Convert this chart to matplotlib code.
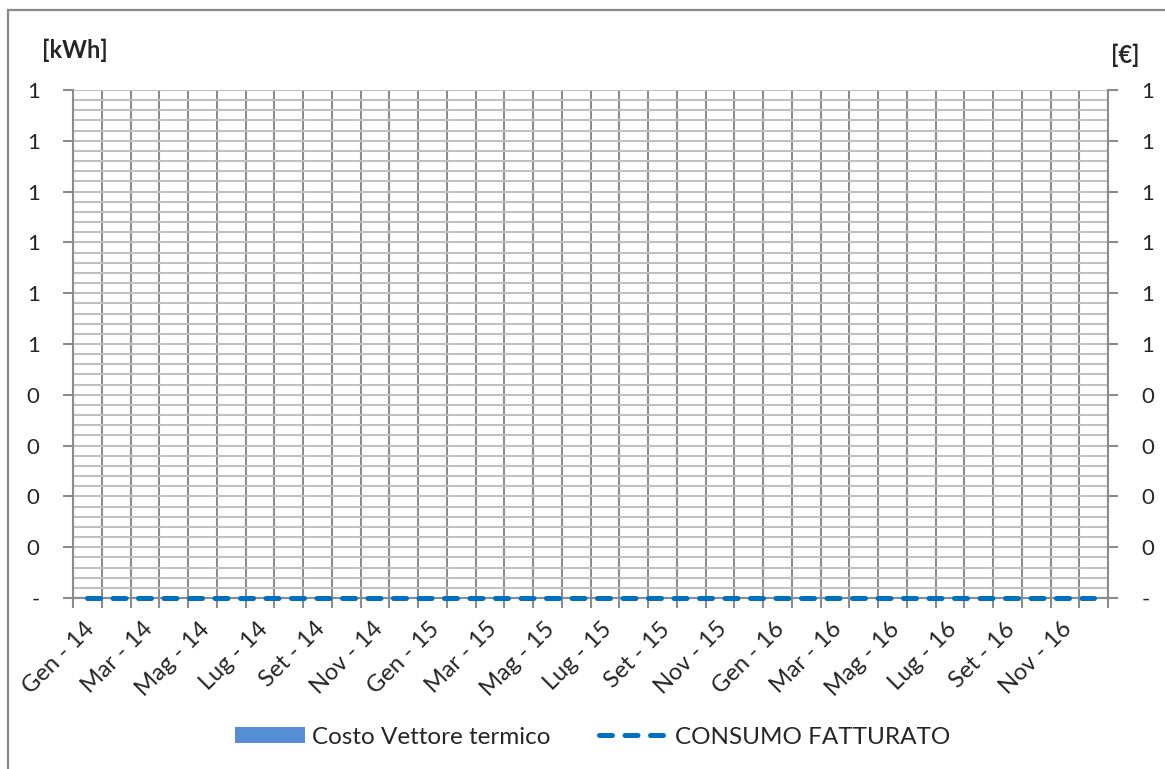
import matplotlib
matplotlib.use("Agg")
import matplotlib.pyplot as plt
from matplotlib.ticker import MultipleLocator, FuncFormatter, FixedLocator
from matplotlib.patches import Rectangle, Patch
from matplotlib.lines import Line2D
from matplotlib.transforms import ScaledTranslation

plt.rcParams['font.family'] = ['Lato', 'DejaVu Sans']

# Monthly categories, Jan 2014 - Dec 2016
mesi = ["Gen", "Feb", "Mar", "Apr", "Mag", "Giu",
        "Lug", "Ago", "Set", "Ott", "Nov", "Dic"]
anni = ["14", "15", "16"]
categorie = [f"{m} - {a}" for a in anni for m in mesi]

# Thermal carrier cost [€] (bars, right axis)
costo_vettore = [0, 0, 0, 0, 0, 0, 0, 0, 0, 0, 0, 0,
                 0, 0, 0, 0, 0, 0, 0, 0, 0, 0, 0, 0,
                 0, 0, 0, 0, 0, 0, 0, 0, 0, 0, 0, 0]
# Billed consumption [kWh] (dashed line, left axis)
consumo_fatturato = [0, 0, 0, 0, 0, 0, 0, 0, 0, 0, 0, 0,
                     0, 0, 0, 0, 0, 0, 0, 0, 0, 0, 0, 0,
                     0, 0, 0, 0, 0, 0, 0, 0, 0, 0, 0, 0]

COL_BAR = "#558ED5"
COL_LINE = "#0070C0"
COL_AXIS = "#8C8C8C"
COL_GRID = "#C0C0C0"
COL_TEXT = "#262626"

W, H = 1165, 769
fig = plt.figure(figsize=(W / 100, H / 100), dpi=100)

# outer chart frame
fig.patches.append(Rectangle((8 / W, -0.1), 1.2, 1.1 - 10 / H, transform=fig.transFigure,
                             fill=False, edgecolor="#898989", linewidth=1.6))

L, R, T, B = 73, 1108, 90, 598
ax = fig.add_axes([L / W, 1 - B / H, (R - L) / W, (B - T) / H])
ax2 = ax.twinx()

n = len(categorie)
x = list(range(n))


def etichetta(v, pos):
    if abs(v) < 1e-9:
        return "-"
    return str(int(v + 0.5 + 1e-9))


for a in (ax, ax2):
    a.set_xlim(-0.5, n - 0.5)
    a.set_ylim(0, 1)
    a.yaxis.set_major_locator(MultipleLocator(0.1))
    a.yaxis.set_minor_locator(MultipleLocator(0.02))
    a.yaxis.set_major_formatter(FuncFormatter(etichetta))
    for s in a.spines.values():
        s.set_color(COL_AXIS)
        s.set_linewidth(1.5)
    a.spines['top'].set_visible(False)
    a.tick_params(axis='y', which='major', length=7, width=1.5, color=COL_AXIS,
                  labelsize=16, labelcolor=COL_TEXT, pad=17)
    a.tick_params(axis='y', which='minor', length=0)

ax2.spines['left'].set_visible(False)
ax.spines['right'].set_visible(False)

# bars for the cost series
ax2.bar(x, costo_vettore, width=0.6, color=COL_BAR, zorder=2)

# horizontal grid (major + minor), vertical grid at category boundaries
ax.yaxis.grid(True, which='both', color=COL_GRID, linewidth=1.5, zorder=0)
ax.xaxis.set_minor_locator(FixedLocator([i - 0.5 for i in range(n + 1)]))
ax.xaxis.grid(True, which='minor', color=COL_AXIS, linewidth=1.5, zorder=0)
ax.set_axisbelow(True)
ax2.set_axisbelow(True)

ax.set_xticks(x[::2])
ax.set_xticklabels(categorie[::2], rotation=45, ha='right', va='center',
                   rotation_mode='anchor', fontsize=17, color=COL_TEXT)
ax.tick_params(axis='x', which='major', length=0, pad=20)
ax.tick_params(axis='x', which='minor', length=7, width=1.5, color=COL_AXIS)
ax2.tick_params(axis='x', which='both', length=0, labelbottom=False)
shift = ScaledTranslation(4 / 100, 0, fig.dpi_scale_trans)
for lbl in ax.get_xticklabels():
    lbl.set_transform(lbl.get_transform() + shift)

# consumption line, drawn above everything
lw = 3.6
ax2.plot(x, consumo_fatturato, color=COL_LINE, linewidth=lw,
         dashes=(2.6, 2.5), dash_capstyle='round', zorder=5, clip_on=False)

ax.set_zorder(0)
ax2.set_zorder(1)
ax2.patch.set_visible(False)

fig.text(75 / W, 1 - 50 / H, "[kWh]", ha='center', va='center',
         fontsize=17, fontweight='bold', color=COL_TEXT)
fig.text(1125 / W, 1 - 55 / H, "[€]", ha='center', va='center',
         fontsize=17, fontweight='bold', color=COL_TEXT)

handles = [Patch(facecolor=COL_BAR, edgecolor='none'),
           Line2D([0], [0], color=COL_LINE, linewidth=lw, dashes=(2.6, 2.5),
                  dash_capstyle='round')]
fig.legend(handles, ["Costo Vettore termico", "CONSUMO FATTURATO"],
           loc='center', bbox_to_anchor=(593 / W, 1 - 737 / H), ncol=2,
           frameon=False, fontsize=17.5, handlelength=2.85, handleheight=0.63,
           handletextpad=0.3, columnspacing=2.0, labelcolor=COL_TEXT)

fig.savefig("out.png", dpi=100)
